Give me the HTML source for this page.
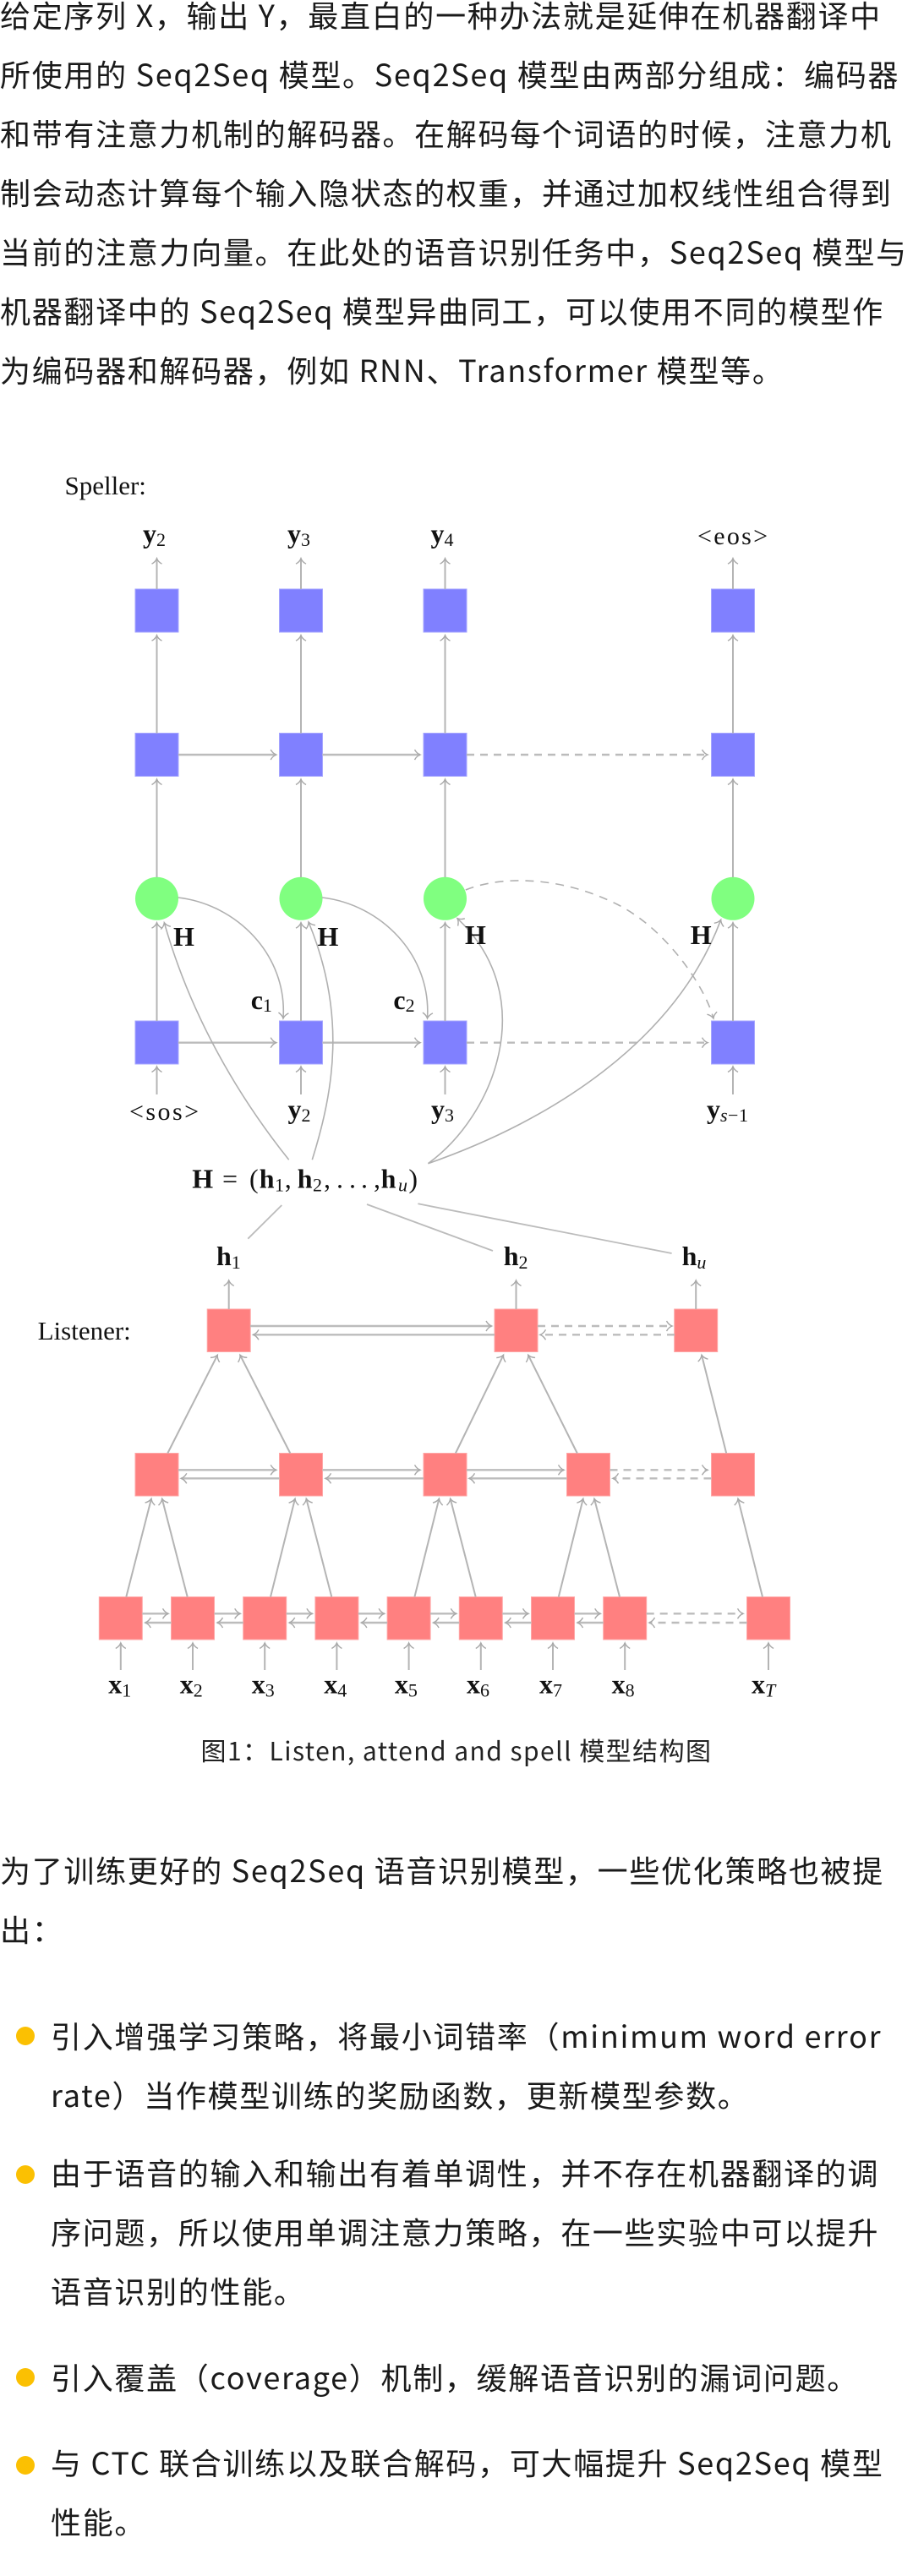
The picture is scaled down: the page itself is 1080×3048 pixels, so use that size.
<!DOCTYPE html>
<html lang="zh"><head><meta charset="utf-8"><title>Listen, attend and spell</title>
<style>
html,body{margin:0;padding:0;background:#fff}
#p{position:relative;width:1080px;height:3048px;overflow:hidden;background:#fff;font-family:"Noto Sans CJK SC",sans-serif;color:#1a1a1a}
.l{position:absolute;left:0;white-space:nowrap;font-size:36px;letter-spacing:1.7px;line-height:70px;height:70px}
.i{left:60px}
.c{left:0;width:1080px;text-align:center;font-size:30px;letter-spacing:1.45px;color:#222}
.b{position:absolute;left:19px;width:22px;height:22px;border-radius:50%;background:#fbc002}
svg{position:absolute;left:0;top:0;filter:blur(0.35px)}
.a{stroke:#b4b4b4;stroke-width:2;fill:none;marker-end:url(#m)}
.p{stroke:#b0b0b0;stroke-width:1.6;fill:none;marker-end:url(#m)}
.h{stroke:#bcbcbc;stroke-width:2.4;fill:none;marker-end:url(#m)}
.d{stroke:#bcbcbc;stroke-width:2.4;fill:none;stroke-dasharray:9 7;marker-end:url(#m)}
.ds{stroke:#b0b0b0;stroke-width:1.6;fill:none;stroke-dasharray:10 8;marker-end:url(#m)}
.ln{stroke:#bcbcbc;stroke-width:1.8;fill:none}
text{font-family:"Liberation Serif",serif;fill:#111}
.bd{font-weight:bold;font-size:32px}
.sb{font-size:22px;font-weight:normal}
.it{font-style:italic;font-size:22px;font-weight:normal}
.r{font-size:31px}
.n{font-weight:normal}
</style></head><body><div id="p">
<div class="l" style="top:-18px">给定序列 X，输出 Y，最直白的一种办法就是延伸在机器翻译中</div>
<div class="l" style="top:52px">所使用的 Seq2Seq 模型。Seq2Seq 模型由两部分组成：编码器</div>
<div class="l" style="top:122px">和带有注意力机制的解码器。在解码每个词语的时候，注意力机</div>
<div class="l" style="top:192px">制会动态计算每个输入隐状态的权重，并通过加权线性组合得到</div>
<div class="l" style="top:262px">当前的注意力向量。在此处的语音识别任务中，Seq2Seq 模型与</div>
<div class="l" style="top:332px">机器翻译中的 Seq2Seq 模型异曲同工，可以使用不同的模型作</div>
<div class="l" style="top:402px">为编码器和解码器，例如 RNN、Transformer 模型等。</div>

<svg width="1080" height="3048" viewBox="0 0 1080 3048" xmlns="http://www.w3.org/2000/svg">
<defs>
<marker id="m" markerUnits="userSpaceOnUse" markerWidth="16" markerHeight="16" refX="12" refY="8" orient="auto">
<path d="M5.500 2Q8 6.500 12 8Q8 9.500 5.500 14" fill="none" stroke="#a8a8a8" stroke-width="1.4"/>
</marker>
</defs>
<!-- speller nodes -->
<g fill="#8080ff" stroke="#a6a6ff" stroke-width="1">
<rect x="160" y="697" width="51" height="51"/><rect x="330.500" y="697" width="51" height="51"/><rect x="501" y="697" width="51" height="51"/><rect x="841.500" y="697" width="51" height="51"/>
<rect x="160" y="867.500" width="51" height="51"/><rect x="330.500" y="867.500" width="51" height="51"/><rect x="501" y="867.500" width="51" height="51"/><rect x="841.500" y="867.500" width="51" height="51"/>
<rect x="160" y="1208" width="51" height="51"/><rect x="330.500" y="1208" width="51" height="51"/><rect x="501" y="1208" width="51" height="51"/><rect x="841.500" y="1208" width="51" height="51"/>
</g>
<g fill="#80ff80">
<circle cx="185.500" cy="1063.300" r="25.500"/><circle cx="356" cy="1063.300" r="25.500"/><circle cx="526.500" cy="1063.300" r="25.500"/><circle cx="867" cy="1063.300" r="25.500"/>
</g>
<!-- speller vertical arrows -->
<path class="a" d="M185.500 697V660.700"/><path class="a" d="M356 697V660.700"/><path class="a" d="M526.500 697V660.700"/><path class="a" d="M867 697V660.700"/>
<path class="a" d="M185.500 867.500V751.700"/><path class="a" d="M356 867.500V751.700"/><path class="a" d="M526.500 867.500V751.700"/><path class="a" d="M867 867.500V751.700"/>
<path class="a" d="M185.500 1038V922"/><path class="a" d="M356 1038V922"/><path class="a" d="M526.500 1038V922"/><path class="a" d="M867 1038V922"/>
<path class="a" d="M185.500 1208V1091.700"/><path class="a" d="M356 1208V1091.700"/><path class="a" d="M526.500 1208V1091.700"/><path class="a" d="M867 1208V1091.700"/>
<path class="a" d="M185.500 1295V1262"/><path class="a" d="M356 1295V1262"/><path class="a" d="M526.500 1295V1262"/><path class="a" d="M867 1295V1262"/>
<!-- speller horizontals -->
<path class="h" d="M211 893H326.700"/><path class="h" d="M381.500 893H497"/><path class="d" d="M552 893H837"/>
<path class="h" d="M211 1233.700H326.700"/><path class="h" d="M381.500 1233.700H497"/><path class="d" d="M552 1233.700H837"/>
<!-- curves -->
<path class="p" d="M210.600 1062C280 1070 340 1130 335 1205"/>
<path class="p" d="M381 1062C450.500 1070 510.500 1130 505.500 1205"/>
<path class="ds" d="M550.800 1053C590 1037 660 1035 730 1070C790 1100 835 1170 843.900 1205"/>
<path class="p" d="M341.700 1372.300C280 1295 225 1200 194.300 1091.700"/>
<path class="p" d="M369.300 1372.300C395 1290 410 1200 365 1091"/>
<path class="p" d="M506.400 1376.700C585 1320 640 1180 541 1086.700"/>
<path class="p" d="M506.400 1376.700C655 1325 800 1230 852.700 1088.300"/>
<!-- H lines -->
<path class="ln" d="M333.300 1426L293.300 1465.700"/><path class="ln" d="M434 1425L583 1480"/><path class="ln" d="M494.400 1424.300L794.600 1483"/>
<!-- listener nodes -->
<g fill="#ff8080" stroke="#ffa6a6" stroke-width="1">
<rect x="245.200" y="1549" width="51" height="50.500"/><rect x="585" y="1549" width="51" height="50.500"/><rect x="797.700" y="1549" width="51" height="50.500"/>
<rect x="160" y="1719.500" width="51" height="50.500"/><rect x="330.500" y="1719.500" width="51" height="50.500"/><rect x="501" y="1719.500" width="51" height="50.500"/><rect x="670.500" y="1719.500" width="51" height="50.500"/><rect x="841.500" y="1719.500" width="51" height="50.500"/>
<rect x="117.300" y="1889.500" width="51" height="50.500"/><rect x="202.500" y="1889.500" width="51" height="50.500"/><rect x="287.700" y="1889.500" width="51" height="50.500"/><rect x="372.900" y="1889.500" width="51" height="50.500"/><rect x="458.100" y="1889.500" width="51" height="50.500"/><rect x="543.300" y="1889.500" width="51" height="50.500"/><rect x="628.500" y="1889.500" width="51" height="50.500"/><rect x="713.700" y="1889.500" width="51" height="50.500"/><rect x="883.500" y="1889.500" width="51" height="50.500"/>
</g>
<!-- listener top arrows -->
<path class="a" d="M270.700 1549V1515"/><path class="a" d="M610.500 1549V1515"/><path class="a" d="M823.200 1549V1515"/>
<!-- tree -->
<path class="a" d="M198.300 1719.500L257.300 1603.300"/><path class="a" d="M343.300 1719.500L284 1603.300"/><path class="a" d="M538.900 1719.500L595.500 1603.300"/><path class="a" d="M682.800 1719.500L624.800 1603.300"/><path class="a" d="M859.200 1719.500L830 1603.300"/>
<path class="a" d="M149.300 1889.500L179 1773.300"/><path class="a" d="M221.700 1889.500L191.700 1773.300"/>
<path class="a" d="M320 1889.500L349 1773.300"/><path class="a" d="M392.300 1889.500L362.300 1773.300"/>
<path class="a" d="M490.400 1889.500L519.400 1773.300"/><path class="a" d="M562.700 1889.500L532.700 1773.300"/>
<path class="a" d="M660.800 1889.500L689.800 1773.300"/><path class="a" d="M733 1889.500L703 1773.300"/>
<path class="a" d="M902 1889.500L873 1773.300"/>
<!-- listener horizontals -->
<path class="h" d="M296 1569H581.500"/><path class="h" d="M585 1579.300L299.500 1579.300"/><path class="d" d="M636 1569H795"/><path class="d" d="M798 1579.300L639 1579.300"/>
<path class="h" d="M211 1739.300H326.700"/><path class="h" d="M330.500 1749.300L214.300 1749.300"/>
<path class="h" d="M381.500 1739.300H497"/><path class="h" d="M501 1749.300L385 1749.300"/>
<path class="h" d="M552 1739.300H667"/><path class="h" d="M670.500 1749.300L555 1749.300"/>
<path class="d" d="M721.500 1739.300H837"/><path class="d" d="M841.500 1749.300L725 1749.300"/>
<path class="h" d="M168.300 1909.300H199"/><path class="h" d="M202.500 1920L171.800 1920"/>
<path class="h" d="M253.500 1909.300H284.200"/><path class="h" d="M287.700 1920L257 1920"/>
<path class="h" d="M338.700 1909.300H369.400"/><path class="h" d="M372.900 1920L342.200 1920"/>
<path class="h" d="M423.900 1909.300H454.600"/><path class="h" d="M458.100 1920L427.400 1920"/>
<path class="h" d="M509.100 1909.300H539.800"/><path class="h" d="M543.300 1920L512.600 1920"/>
<path class="h" d="M594.300 1909.300H625"/><path class="h" d="M628.500 1920L597.800 1920"/>
<path class="h" d="M679.500 1909.300H710.200"/><path class="h" d="M713.700 1920L683 1920"/>
<path class="d" d="M764.700 1909.300H879"/><path class="d" d="M883.500 1920L768 1920"/>
<!-- listener bottom arrows -->
<path class="a" d="M142.800 1976V1944"/><path class="a" d="M228 1976V1944"/><path class="a" d="M313.200 1976V1944"/><path class="a" d="M398.400 1976V1944"/><path class="a" d="M483.600 1976V1944"/><path class="a" d="M568.800 1976V1944"/><path class="a" d="M654 1976V1944"/><path class="a" d="M739.200 1976V1944"/><path class="a" d="M909 1976V1944"/>
<!-- labels -->
<text x="76.500" y="585" class="r">Speller:</text>
<text x="44.600" y="1585" class="r">Listener:</text>
<text x="169" y="642" class="bd">y<tspan class="sb" dy="4">2</tspan></text>
<text x="340" y="642" class="bd">y<tspan class="sb" dy="4">3</tspan></text>
<text x="509.500" y="642" class="bd">y<tspan class="sb" dy="4">4</tspan></text>
<text x="825" y="644" style="font-size:30px" textLength="83">&lt;eos&gt;</text>
<text x="205" y="1119" class="bd">H</text>
<text x="375.500" y="1119" class="bd">H</text>
<text x="550" y="1117" class="bd">H</text>
<text x="816.700" y="1117" class="bd">H</text>
<text x="296.700" y="1194" class="bd">c<tspan class="sb" dy="3">1</tspan></text>
<text x="465.400" y="1194" class="bd">c<tspan class="sb" dy="3">2</tspan></text>
<text x="153" y="1325" style="font-size:30px" textLength="82">&lt;sos&gt;</text>
<text x="340.500" y="1323" class="bd">y<tspan class="sb" dy="4">2</tspan></text>
<text x="510" y="1323" class="bd">y<tspan class="sb" dy="4">3</tspan></text>
<text x="836" y="1323" class="bd">y<tspan class="it" dy="4">s</tspan><tspan class="sb" x="861">−</tspan><tspan class="sb" x="874">1</tspan></text>
<text y="1405.700" class="bd"><tspan x="227.300">H</tspan><tspan class="n" x="263">=</tspan><tspan class="n" x="295">(</tspan><tspan x="306.700">h</tspan><tspan class="sb" x="325" dy="4">1</tspan><tspan class="n" x="336.700" dy="-4">,</tspan><tspan x="351.700">h</tspan><tspan class="sb" x="370" dy="4">2</tspan><tspan class="n" x="383" dy="-4">,</tspan><tspan class="n" x="398">.</tspan><tspan class="n" x="413">.</tspan><tspan class="n" x="427">.</tspan><tspan class="n" x="442">,</tspan><tspan x="450.600">h</tspan><tspan class="it" x="471" dy="4">u</tspan><tspan class="n" x="483.400" dy="-4">)</tspan></text>
<text x="256" y="1497" class="bd">h<tspan class="sb" dy="4">1</tspan></text>
<text x="595.700" y="1497" class="bd">h<tspan class="sb" dy="4">2</tspan></text>
<text x="806.600" y="1497" class="bd">h<tspan class="it" dy="4">u</tspan></text>
<text x="128.300" y="2003.300" class="bd">x<tspan class="sb" dy="4">1</tspan></text>
<text x="212.700" y="2003.300" class="bd">x<tspan class="sb" dy="4">2</tspan></text>
<text x="297.700" y="2003.300" class="bd">x<tspan class="sb" dy="4">3</tspan></text>
<text x="383.300" y="2003.300" class="bd">x<tspan class="sb" dy="4">4</tspan></text>
<text x="466.900" y="2003.300" class="bd">x<tspan class="sb" dy="4">5</tspan></text>
<text x="552" y="2003.300" class="bd">x<tspan class="sb" dy="4">6</tspan></text>
<text x="638" y="2003.300" class="bd">x<tspan class="sb" dy="4">7</tspan></text>
<text x="723.600" y="2003.300" class="bd">x<tspan class="sb" dy="4">8</tspan></text>
<text x="889" y="2003.300" class="bd">x<tspan class="it" dy="4">T</tspan></text>
</svg>

<div class="l c" style="top:2035px">图1：Listen, attend and spell 模型结构图</div>
<div class="l" style="top:2177px">为了训练更好的 Seq2Seq 语音识别模型，一些优化策略也被提</div>
<div class="l" style="top:2247px">出：</div>
<div class="b" style="top:2398px"></div>
<div class="l i" style="top:2373px">引入增强学习策略，将最小词错率（minimum word error</div>
<div class="l i" style="top:2443px">rate）当作模型训练的奖励函数，更新模型参数。</div>
<div class="b" style="top:2562px"></div>
<div class="l i" style="top:2535px">由于语音的输入和输出有着单调性，并不存在机器翻译的调</div>
<div class="l i" style="top:2605px">序问题，所以使用单调注意力策略，在一些实验中可以提升</div>
<div class="l i" style="top:2675px">语音识别的性能。</div>
<div class="b" style="top:2802px"></div>
<div class="l i" style="top:2777px">引入覆盖（coverage）机制，缓解语音识别的漏词问题。</div>
<div class="b" style="top:2906px"></div>
<div class="l i" style="top:2878px">与 CTC 联合训练以及联合解码，可大幅提升 Seq2Seq 模型</div>
<div class="l i" style="top:2948px">性能。</div>
</div></body></html>
